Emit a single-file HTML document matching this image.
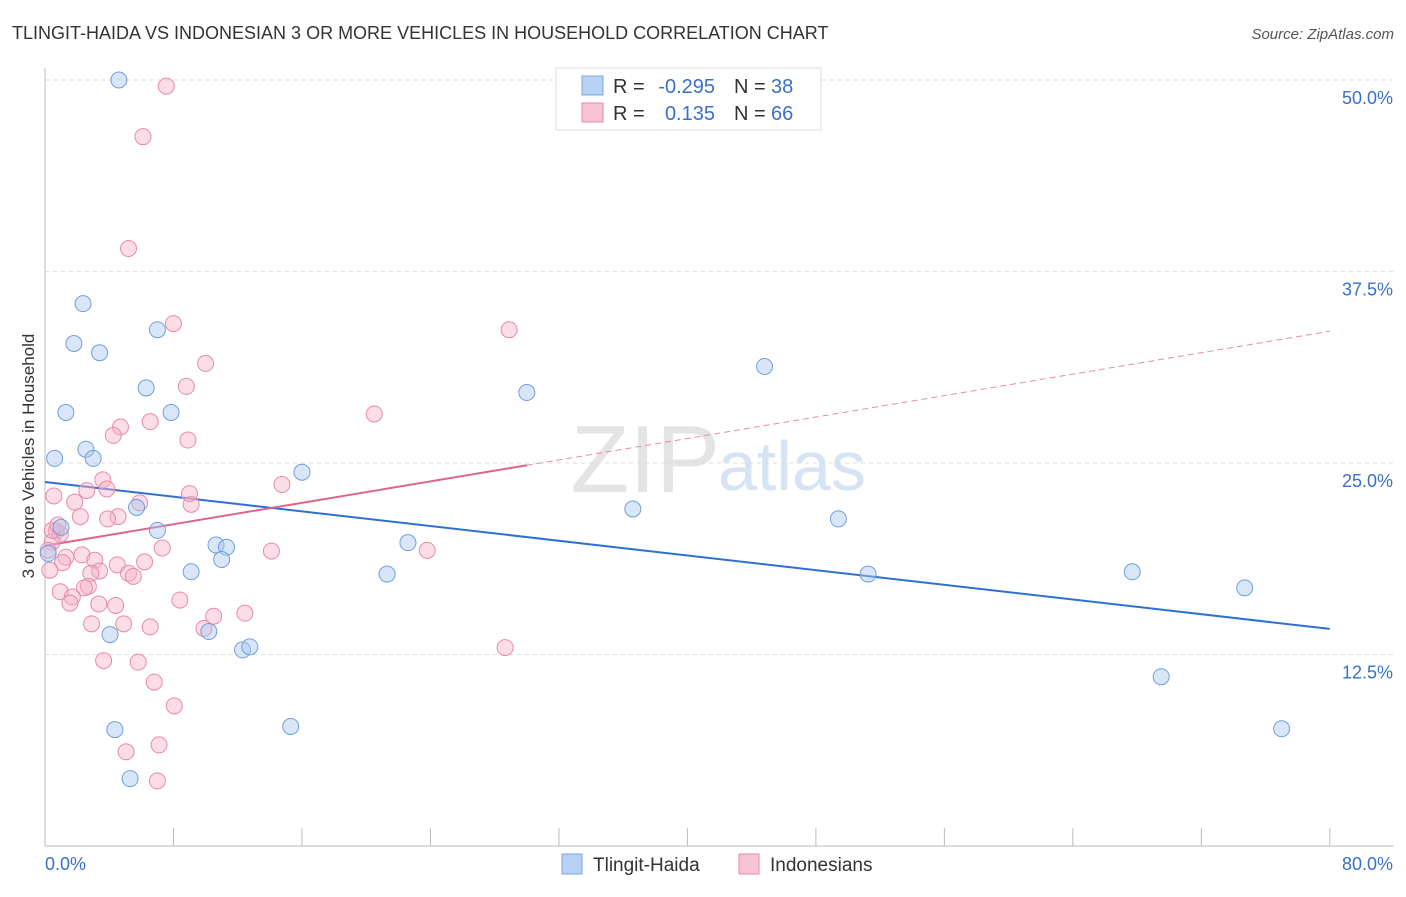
<!DOCTYPE html>
<html><head><meta charset="utf-8"><style>
body{margin:0;background:#fff;font-family:"Liberation Sans",sans-serif;}
svg text{font-family:"Liberation Sans",sans-serif;}
</style></head><body>
<svg id="chart" width="1406" height="892" xmlns="http://www.w3.org/2000/svg">
<text x="12" y="39" font-size="18" fill="#333">TLINGIT-HAIDA VS INDONESIAN 3 OR MORE VEHICLES IN HOUSEHOLD CORRELATION CHART</text>
<text x="1394" y="39" font-size="15" fill="#555" text-anchor="end" font-style="italic">Source: ZipAtlas.com</text>
<text transform="translate(34,456) rotate(-90)" font-size="17" fill="#333" text-anchor="middle">3 or more Vehicles in Household</text>
<text x="720" y="492" font-size="96" fill="#e4e4e4" text-anchor="end" font-family="Liberation Serif">ZIP</text>
<text x="718" y="490" font-size="70" fill="#d6e3f4">atlas</text>
<g id="grid"></g><g id="axes"></g><g id="lines"></g><g id="pts"></g>
<g>
<rect x="556" y="68" width="265" height="62" fill="#fff" stroke="#ddd"/>
<rect x="582" y="76" width="21" height="19" fill="#b8d2f5" stroke="#7aa7e0"/>
<rect x="582" y="103" width="21" height="19" fill="#f8c4d4" stroke="#e88aa8"/>
<text x="613" y="93" font-size="20" fill="#333">R =</text>
<text x="715" y="93" font-size="20" fill="#3a70c8" text-anchor="end">-0.295</text>
<text x="734" y="93" font-size="20" fill="#333">N =</text>
<text x="771" y="93" font-size="20" fill="#3a70c8">38</text>
<text x="613" y="120" font-size="20" fill="#333">R =</text>
<text x="715" y="120" font-size="20" fill="#3a70c8" text-anchor="end">0.135</text>
<text x="734" y="120" font-size="20" fill="#333">N =</text>
<text x="771" y="120" font-size="20" fill="#3a70c8">66</text>
</g>
<g>
<rect x="562" y="854" width="20" height="20" fill="#b8d2f5" stroke="#7aa7e0"/>
<text x="593" y="871" font-size="19" fill="#333">Tlingit-Haida</text>
<rect x="739" y="854" width="20" height="20" fill="#f8c4d4" stroke="#e88aa8"/>
<text x="770" y="871" font-size="19" fill="#333">Indonesians</text>
</g>
</svg>
<script>
const yTicks=[12.5,25,37.5,50];
const yTickLabels=["12.5%","25.0%","37.5%","50.0%"];
const blueX=[4.6,2.37,1.8,3.4,7.0,1.3,6.3,7.85,0.6,2.55,3.0,16.0,30.0,44.8,5.7,7.0,1.0,0.2,10.65,11.3,11.0,9.1,22.6,21.3,36.6,49.4,51.25,67.7,74.7,4.05,10.2,12.3,12.75,69.5,4.35,15.3,5.3,77.0];
const blueY=[50.0,35.4,32.8,32.2,33.7,28.3,29.9,28.3,25.3,25.9,25.3,24.4,29.6,31.3,22.1,20.6,20.8,19.1,19.65,19.5,18.7,17.9,19.8,17.75,22.0,21.35,17.75,17.9,16.85,13.8,14.0,12.8,13.0,11.05,7.6,7.8,4.4,7.65];
const pinkX=[7.55,6.1,5.2,8.0,28.9,10.0,8.8,20.5,6.55,4.7,4.25,8.9,3.6,0.55,1.85,2.6,3.85,5.9,9.1,9.0,14.75,4.55,2.2,3.9,0.7,0.95,0.45,7.3,14.1,23.8,2.3,1.3,3.1,1.1,3.4,4.5,6.2,5.2,5.5,2.85,2.7,2.45,0.95,1.7,1.55,3.35,4.4,8.4,10.5,12.45,2.9,4.9,6.55,9.9,28.65,3.65,5.8,6.8,8.05,5.05,7.1,7.0,0.3,0.2,0.45,0.8];
const pinkY=[49.6,46.3,39.0,34.1,33.7,31.5,30.0,28.2,27.7,27.35,26.8,26.5,23.9,22.85,22.45,23.2,23.3,22.4,22.3,23.0,23.6,21.5,21.5,21.35,20.55,20.35,19.85,19.45,19.25,19.3,19.0,18.85,18.65,18.5,17.95,18.35,18.55,17.8,17.6,17.8,16.95,16.85,16.6,16.25,15.85,15.8,15.7,16.05,15.0,15.2,14.5,14.5,14.3,14.2,12.95,12.1,12.0,10.7,9.15,6.15,6.6,4.25,18.0,19.3,20.6,20.95];
const blueTrend=[23.76,14.17];
const pinkTrend=[19.6,0.175];
const NS="http://www.w3.org/2000/svg";
const X=v=>45+v*16.06, Y=v=>846-v*15.32;
function mk(tag,attrs,parent){const e=document.createElementNS(NS,tag);for(const k in attrs)e.setAttribute(k,attrs[k]);document.getElementById(parent).appendChild(e);return e;}
yTicks.forEach((t,i)=>{
 const l=mk('line',{x1:45,x2:1394,y1:Y(t),y2:Y(t),stroke:'#ddd','stroke-dasharray':'4,4'},'grid');
 
 
 const tx=mk('text',{x:1393,y:Y(t)+24,'font-size':18,fill:'#3a70c8','text-anchor':'end'},'grid');
 tx.textContent=yTickLabels[i];
 
 
});
const ax=mk('line',{x1:45,x2:45,y1:68,y2:846,stroke:'#bbb'},'axes');


const bx=mk('line',{x1:45,x2:1394,y1:846,y2:846,stroke:'#bbb'},'axes');


for(let i=0;i<=10;i++){const t=mk('line',{x1:X(i*8),x2:X(i*8),y1:828,y2:846,stroke:'#bbb'},'axes');
 
 }
const xl0=mk('text',{x:45,y:870,'font-size':18,fill:'#3a70c8'},'axes');xl0.textContent='0.0%';


const xl1=mk('text',{x:1393,y:870,'font-size':18,fill:'#3a70c8','text-anchor':'end'},'axes');xl1.textContent='80.0%';


function pts(xs,ys,fill,stroke,name){xs.forEach((x,i)=>{const c=mk('circle',{cx:X(x),cy:Y(ys[i]),r:8,fill:fill,'fill-opacity':0.45,stroke:stroke,'stroke-width':1},'pts');
 
 });}
pts(pinkX,pinkY,'#f5b3c8','#e88aa8','indonesians-point');
pts(blueX,blueY,'#a8c8f0','#6f9fdc','tlingit-haida-point');
const bl=mk('line',{x1:X(0),y1:Y(blueTrend[0]),x2:X(80),y2:Y(blueTrend[1]),stroke:'#2f6fd0','stroke-width':2},'lines');


const pl=mk('line',{x1:X(0),y1:Y(pinkTrend[0]),x2:X(30),y2:Y(pinkTrend[0]+pinkTrend[1]*30),stroke:'#e0628e','stroke-width':2},'lines');


const pd=mk('line',{x1:X(30),y1:Y(pinkTrend[0]+pinkTrend[1]*30),x2:X(80),y2:Y(pinkTrend[0]+pinkTrend[1]*80),stroke:'#e88aa8','stroke-width':1,'stroke-dasharray':'6,4'},'lines');


</script>
</body></html>
